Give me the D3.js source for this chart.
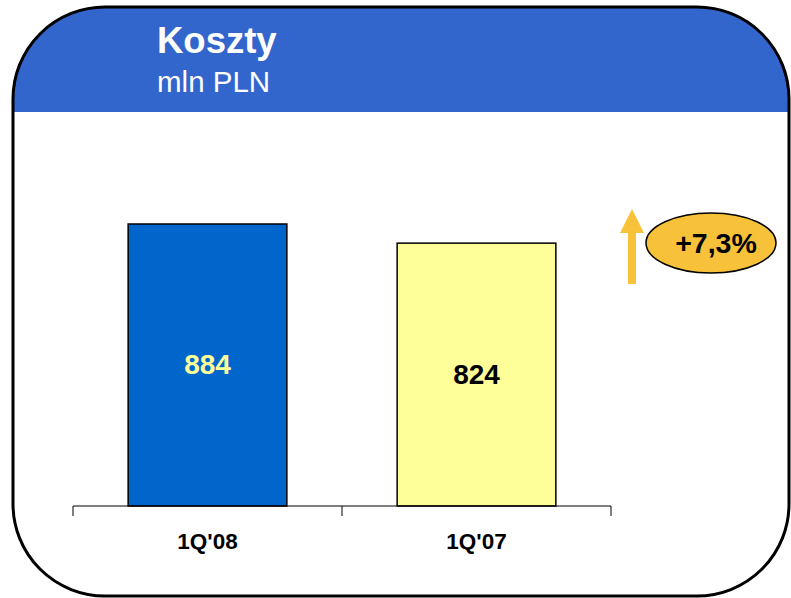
<!DOCTYPE html>
<html>
<head>
<meta charset="utf-8">
<script src="https://cdn.jsdelivr.net/npm/d3@7"></script>
<style>
  body { margin: 0; background: #ffffff; }
  svg { display: block; font-family: "Liberation Sans", Arial, sans-serif; }
</style>
</head>
<body>
<svg id="chart" width="791" height="598"></svg>
<script>
// data
var categories = ["1Q'08", "1Q'07"]
var values = [884, 824]
var valueLabels = ["884", "824"]
var barColors = ["#0066CC", "#FFFF99"]
var labelColors = ["#FFFF99", "#000000"]
var changeLabel = "+7,3%"

var svg = d3.select("#chart")

// frame shape
var fx = 13, fy = 7, fw = 776, fh = 589, fr = 92

svg.append("defs")
    .append("clipPath")
    .attr("id", "frameClip")
    .append("rect")
    .attr("x", fx).attr("y", fy)
    .attr("width", fw).attr("height", fh)
    .attr("rx", fr).attr("ry", fr)

// blue header
svg.append("rect")
    .attr("x", fx).attr("y", fy)
    .attr("width", fw).attr("height", 112 - fy)
    .attr("fill", "#3366CC")
    .attr("clip-path", "url(#frameClip)")

svg.append("rect")
    .attr("x", fx).attr("y", fy)
    .attr("width", fw).attr("height", fh)
    .attr("rx", fr).attr("ry", fr)
    .attr("fill", "none")
    .attr("stroke", "#000")
    .attr("stroke-width", 3)

svg.append("text")
    .attr("x", 157).attr("y", 53)
    .attr("fill", "#fff")
    .attr("font-size", 36.5)
    .attr("font-weight", "bold")
    .text("Koszty")

svg.append("text")
    .attr("x", 157).attr("y", 92)
    .attr("fill", "#fff")
    .attr("font-size", 29.5)
    .text("mln PLN")

// scales
var x = d3.scaleBand()
    .domain(categories)
    .range([73, 611])
    .paddingInner(0.41)
    .paddingOuter(0.205)

var y = d3.scaleLinear()
    .domain([0, 884])
    .range([506, 224])

// bars
svg.append("g")
    .selectAll("rect")
    .data(values)
    .enter()
    .append("rect")
    .attr("x", (d, i) => x(categories[i]))
    .attr("y", d => y(d))
    .attr("width", x.bandwidth())
    .attr("height", d => y(0) - y(d))
    .attr("fill", (d, i) => barColors[i])
    .attr("stroke", "#000")
    .attr("stroke-width", 1.5)

svg.append("g")
    .selectAll("text")
    .data(values)
    .enter()
    .append("text")
    .attr("x", (d, i) => x(categories[i]) + x.bandwidth() / 2)
    .attr("y", d => (y(d) + y(0)) / 2 + 9)
    .attr("text-anchor", "middle")
    .attr("font-size", 28)
    .attr("font-weight", "bold")
    .attr("fill", (d, i) => labelColors[i])
    .text((d, i) => valueLabels[i])

// axis with ticks between categories
var axis = svg.append("g")
axis.append("line")
    .attr("x1", 73).attr("x2", 611)
    .attr("y1", y(0)).attr("y2", y(0))
    .attr("stroke", "#000")
    .attr("stroke-width", 1)

var step = x.step()
var tickPos = [73].concat(categories.map(c => x(c) + x.bandwidth() / 2 + step / 2))
axis.selectAll(".tick")
    .data(tickPos)
    .enter()
    .append("line")
    .attr("x1", d => d).attr("x2", d => d)
    .attr("y1", y(0)).attr("y2", y(0) + 10)
    .attr("stroke", "#000")
    .attr("stroke-width", 1)

axis.selectAll("text")
    .data(categories)
    .enter()
    .append("text")
    .attr("x", d => x(d) + x.bandwidth() / 2)
    .attr("y", 549)
    .attr("text-anchor", "middle")
    .attr("font-size", 22.5)
    .attr("font-weight", "bold")
    .text(d => d)

// arrow + change bubble
var gold = "#F7C23A"
svg.append("path")
    .attr("d", "M628,284 L628,233 L620,233 L632,209 L644,233 L636,233 L636,284 Z")
    .attr("fill", gold)

svg.append("ellipse")
    .attr("cx", 711).attr("cy", 243)
    .attr("rx", 65).attr("ry", 30)
    .attr("fill", gold)
    .attr("stroke", "#000")
    .attr("stroke-width", 1.5)

svg.append("text")
    .attr("x", 716).attr("y", 253)
    .attr("text-anchor", "middle")
    .attr("font-size", 28.5)
    .attr("font-weight", "bold")
    .text(changeLabel)
</script>
</body>
</html>
